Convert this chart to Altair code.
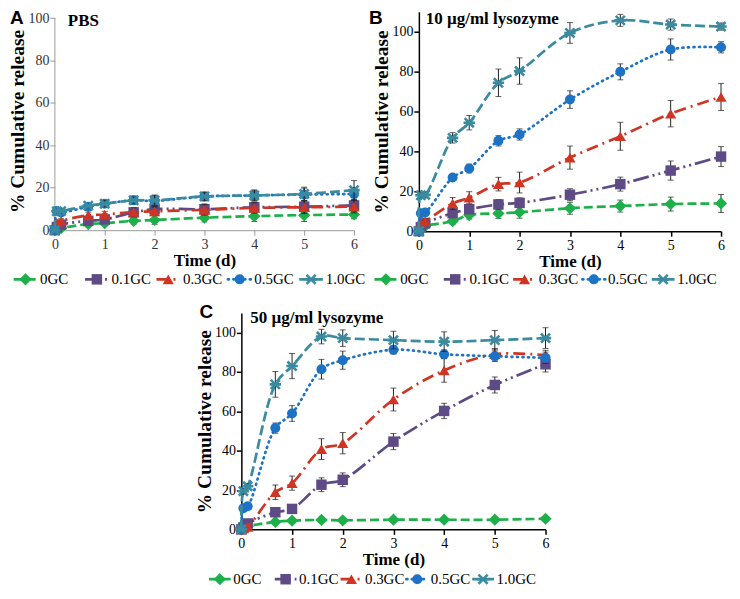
import altair as alt
import pandas as pd

SERIF = "Liberation Serif"
SANS = "Liberation Sans"

TIME = [0, 0.04, 0.125, 0.67, 1, 1.58, 2, 3, 4, 5, 6]
SERIES = ["0GC", "0.1GC", "0.3GC", "0.5GC", "1.0GC"]

# Panel A - PBS
PBS_VAL = {
    "0GC":   [0, 0.5, 1.0, 2.9, 3.3, 4.4, 4.8, 5.9, 6.6, 7.1, 7.4],
    "0.1GC": [0, 1.5, 2.6, 4.4, 5.1, 8.4, 9.9, 9.9, 10.8, 11.1, 11.7],
    "0.3GC": [0, 3.5, 4.4, 7.0, 7.4, 8.6, 8.9, 9.6, 10.5, 10.8, 11.1],
    "0.5GC": [0, 9.0, 8.4, 11.1, 12.5, 14.1, 13.8, 15.9, 16.4, 16.8, 17.1],
    "1.0GC": [0, 8.9, 9.0, 11.6, 12.5, 14.1, 14.1, 15.9, 16.4, 17.1, 18.9],
}
PBS_ERR = {
    "0GC":   [0, 0.3, 0.5, 1.0, 1.0, 1.5, 2.0, 2.0, 2.5, 3.0, 2.0],
    "0.1GC": [0, 0.5, 1.0, 1.0, 1.5, 2.0, 2.0, 2.5, 2.5, 3.0, 3.0],
    "0.3GC": [0, 0.5, 1.0, 1.5, 1.5, 2.0, 2.0, 2.5, 2.5, 3.0, 3.0],
    "0.5GC": [0, 1.0, 1.0, 1.0, 1.5, 2.0, 2.5, 2.0, 2.5, 3.0, 3.0],
    "1.0GC": [0, 1.0, 1.0, 1.0, 1.5, 1.5, 2.5, 2.0, 2.5, 3.2, 4.5],
}

# Panel B - 10 ug/ml lysozyme
L10_VAL = {
    "0GC":   [0, 1.0, 2.5, 5.0, 8.1, 8.9, 9.5, 11.5, 12.6, 13.6, 13.9],
    "0.1GC": [0, 2.0, 3.9, 9.0, 11.0, 13.4, 14.2, 18.3, 23.6, 30.4, 37.4],
    "0.3GC": [0, 4.0, 5.0, 13.9, 16.8, 23.6, 24.4, 36.9, 47.6, 58.9, 67.3],
    "0.5GC": [0, 9.0, 9.4, 26.9, 31.4, 45.3, 48.5, 66.0, 79.9, 91.1, 92.2],
    "1.0GC": [0, 18.0, 18.2, 46.8, 54.4, 74.4, 80.3, 99.4, 105.7, 103.6, 102.6],
}
L10_ERR = {
    "0GC":   [0, 0.5, 1.0, 1.5, 2.0, 2.5, 3.0, 3.0, 3.0, 3.5, 4.5],
    "0.1GC": [0, 0.5, 1.0, 2.0, 2.0, 2.5, 2.5, 3.0, 3.5, 4.8, 5.0],
    "0.3GC": [0, 1.0, 1.5, 3.0, 3.0, 3.4, 5.2, 5.8, 7.0, 6.6, 6.8],
    "0.5GC": [0, 1.0, 1.0, 1.5, 2.2, 2.6, 2.8, 4.4, 4.0, 5.3, 2.8],
    "1.0GC": [0, 1.5, 1.5, 2.6, 3.6, 6.9, 6.6, 5.2, 3.0, 2.8, 1.8],
}

# Panel C - 50 ug/ml lysozyme
L50_VAL = {
    "0GC":   [0, 0.5, 1.5, 3.8, 4.4, 4.8, 4.6, 4.9, 4.9, 4.9, 5.4],
    "0.1GC": [0, 1.0, 3.0, 8.7, 10.4, 22.7, 25.2, 44.6, 60.2, 73.4, 83.9],
    "0.3GC": [0, 0.5, 1.3, 18.9, 23.5, 40.8, 43.8, 66.0, 80.8, 89.0, 88.5],
    "0.5GC": [0, 10.7, 11.7, 51.5, 58.9, 81.4, 86.0, 91.3, 89.0, 88.0, 87.2],
    "1.0GC": [0, 19.4, 21.9, 73.7, 83.0, 98.0, 97.2, 96.2, 95.4, 96.2, 97.2],
}
L50_ERR = {
    "0GC":   [0, 0.3, 0.5, 1.0, 1.0, 1.0, 1.0, 1.0, 1.0, 1.0, 1.0],
    "0.1GC": [0, 0.5, 1.0, 2.0, 2.0, 3.5, 3.5, 4.1, 3.9, 4.1, 3.9],
    "0.3GC": [0, 0.3, 0.5, 3.7, 3.6, 5.3, 5.4, 5.8, 6.0, 2.9, 2.5],
    "0.5GC": [0, 1.0, 1.0, 2.6, 4.0, 5.0, 4.6, 2.2, 2.2, 2.7, 2.9],
    "1.0GC": [0, 1.5, 1.5, 6.6, 6.4, 3.7, 4.2, 4.5, 5.0, 4.9, 5.3],
}

X_TICKS = [0, 1, 2, 3, 4, 5, 6]
Y_TICKS = [0, 20, 40, 60, 80, 100]

# styles
COLORS = ["#1db04a", "#5e4a85", "#cf3522", "#1c72c4", "#3a8b9f"]
DASHES = [[9, 4], [16, 4, 2, 4, 2, 4], [12, 5, 2, 5], [1, 4.5], [10, 4]]
CAPS = ["butt", "butt", "butt", "round", "butt"]
ASTER = "M-0.8,-0.8L0.8,0.8M-0.8,0.8L0.8,-0.8M-1,0L1,0"
SHAPES = ["diamond", "square", "triangle-up", "circle", ASTER]
SIZES = [150, 110, 125, 100, 130]


def make_point(chart, i, X, Y):
    if i == 4:
        m = chart.mark_point(shape=SHAPES[i], size=SIZES[i], filled=False,
                             color=COLORS[i], strokeWidth=2.6, opacity=1)
    else:
        m = chart.mark_point(shape=SHAPES[i], size=SIZES[i], filled=True,
                             color=COLORS[i], opacity=1)
    return m.encode(x=X, y=Y)


def panel(vals, errs, ymax, w, h, gray, title, title_xy, letter, letter_xy,
          leg_off, leg_step, leg_dy):
    axis_col = "#9a9a9a" if gray else "black"
    lab_col = "#333333" if gray else "black"
    dw = 1 if gray else 1.5
    xs = alt.Scale(domain=[0, 6], nice=False, padding=0)
    ys = alt.Scale(domain=[0, ymax], nice=False, padding=0)
    ax = alt.Axis(values=X_TICKS, format="d", title="Time (d)", grid=False,
                  titleFont=SERIF, titleFontSize=17, titleFontWeight="bold",
                  titleColor="black", titlePadding=1, labelFlush=False,
                  labelFont=SERIF, labelFontSize=14, labelColor=lab_col,
                  labelPadding=2, tickSize=5, tickColor=axis_col, tickWidth=dw,
                  domainColor=axis_col, domainWidth=dw)
    ay = alt.Axis(values=Y_TICKS, title="% Cumulative release", grid=False,
                  titleFont=SERIF, titleFontSize=19.5, titleFontWeight="bold",
                  titleColor="black", titlePadding=0, labelFlush=False,
                  labelFont=SERIF, labelFontSize=14, labelColor=lab_col,
                  labelPadding=1, tickSize=5, tickColor=axis_col, tickWidth=dw,
                  domainColor=axis_col, domainWidth=dw, domain=not gray)
    layers = []
    if gray:
        # y axis line of panel A stops at 100
        layers.append(alt.Chart(pd.DataFrame({"v": [0]})).mark_rule(
            color=axis_col, strokeWidth=dw).encode(
            x=alt.value(0), y=alt.Y(datum=100, scale=ys, axis=ay),
            y2=alt.value(h)))
    for i, s in enumerate(SERIES):
        d = pd.DataFrame({"t": TIME, "v": vals[s], "e": errs[s]})
        d["lo"] = d["v"] - d["e"]
        d["hi"] = d["v"] + d["e"]
        X = alt.X("t:Q", scale=xs, axis=ax)
        Y = alt.Y("v:Q", scale=ys, axis=ay)
        base = alt.Chart(d)
        layers.append(base.mark_line(color=COLORS[i], strokeWidth=2.7,
                                     strokeDash=DASHES[i], strokeCap=CAPS[i],
                                     interpolate="catmull-rom").encode(x=X, y=Y))
        de = d[d["e"] > 0.6]
        layers.append(alt.Chart(de).mark_errorbar(ticks=True, size=6, thickness=1,
                                                  color="#222222").encode(
            x=X, y=alt.Y("lo:Q", scale=ys, axis=ay, title="% Cumulative release"),
            y2="hi:Q"))
        layers.append(make_point(base, i, X, Y))

    # legend below the panel
    ly = h + leg_dy
    for i, s in enumerate(SERIES):
        x0 = leg_off + i * leg_step
        one = alt.Chart(pd.DataFrame({"series": [s]}))
        layers.append(one.mark_rule(color=COLORS[i], strokeWidth=2.8,
                                    strokeDash=DASHES[i], strokeCap=CAPS[i]).encode(
            x=alt.value(x0), x2=alt.value(x0 + 0.33 * leg_step), y=alt.value(ly)))
        layers.append(make_point(one, i, alt.value(x0 + 0.165 * leg_step),
                                 alt.value(ly)))
        layers.append(one.mark_text(align="left", baseline="middle", font=SERIF,
                                    fontSize=15, color="black").encode(
            x=alt.value(x0 + 0.37 * leg_step), y=alt.value(ly), text="series:N"))

    tdf = pd.DataFrame({"label": [title]})
    layers.append(alt.Chart(tdf).mark_text(align="left", baseline="middle",
                                           font=SERIF, fontSize=17,
                                           fontWeight="bold", color="black").encode(
        x=alt.value(title_xy[0]), y=alt.value(title_xy[1]), text="label:N"))
    ldf = pd.DataFrame({"label": [letter]})
    layers.append(alt.Chart(ldf).mark_text(align="left", baseline="alphabetic",
                                           font=SANS, fontSize=19,
                                           fontWeight="bold", color="black").encode(
        x=alt.value(letter_xy[0]), y=alt.value(letter_xy[1]), text="label:N"))
    return alt.layer(*layers).properties(width=w, height=h)


def spacer(w, h):
    return alt.Chart(pd.DataFrame({"v": [0]})).mark_point(size=0, opacity=0).encode(
        x=alt.value(0), y=alt.value(0)).properties(width=w, height=h)


pA = panel(PBS_VAL, PBS_ERR, 103, 300, 219, True, "PBS", (13, 9.5), "A", (-45, 12),
           -41.3, 71.6, 49.3)
pB = panel(L10_VAL, L10_ERR, 110, 303, 220, False, "10 \u00b5g/ml lysozyme",
           (7, 7), "B", (-50, 12), -44.5, 69.5, 48.3)
pC = panel(L50_VAL, L50_ERR, 110, 305, 217, False, "50 \u00b5g/ml lysozyme",
           (9, 5), "C", (-42, 5), -32.5, 66, 50)

top = alt.hconcat(pA, pB, spacing=3)
bottom = alt.hconcat(spacer(1, 1), pC, spacing=139)

chart = alt.vconcat(top, bottom, spacing=13).properties(
    padding=0, background="white"
).configure_view(stroke=None)

chart.save("out.html", embed_options={"renderer": "svg", "actions": False})
